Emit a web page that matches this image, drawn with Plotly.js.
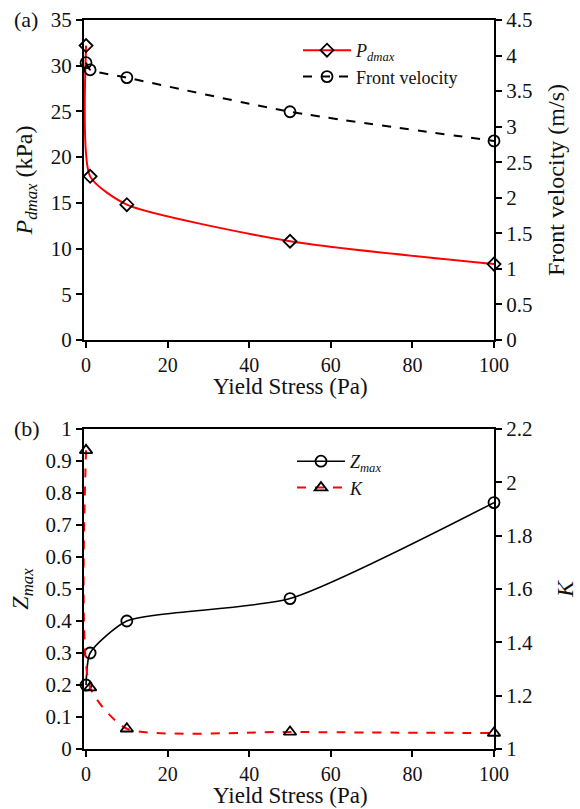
<!DOCTYPE html>
<html>
<head>
<meta charset="utf-8">
<script src="https://cdn.plot.ly/plotly-3.0.1.min.js"></script>
<style>
  html, body { margin: 0; padding: 0; background: #fff; }
  #chart { width: 580px; height: 809px; }
</style>
</head>
<body>
<div id="chart"></div>
<script>
// Yield stress values (Pa) shared by both panels
const yieldStress = [0, 1, 10, 50, 100];

// Panel (a): maximum dynamic pressure (kPa) and front velocity (m/s)
const pdmax = [32.2, 17.9, 14.8, 10.8, 8.3];
const frontVelocity = [3.9, 3.8, 3.69, 3.21, 2.8];

// Panel (b): maximum run-up height Zmax and coefficient K
const zmax = [0.2, 0.3, 0.4, 0.47, 0.77];
const kCoef = [2.12, 1.23, 1.076, 1.064, 1.06];

// x tick values shown on both panels
const xTicks = [0, 20, 40, 60, 80, 100];

const serif = 'Liberation Serif';
const tickFont = { family: serif, size: 21, color: '#111' };
const xTickFont = { family: serif, size: 20, color: '#111' };
const titleFont = { family: serif, size: 24, color: '#111' };
const xTitleFont = { family: serif, size: 23, color: '#111' };

const traces = [
  {
    x: yieldStress, y: pdmax, name: '<i>P<sub>dmax</sub></i>',
    xaxis: 'x', yaxis: 'y', mode: 'lines+markers', cliponaxis: false,
    line: { color: '#ff0000', width: 2, shape: 'spline', smoothing: 0.6 },
    marker: { symbol: 'diamond-open', size: 10, color: '#000', line: { width: 1.8, color: '#000' } }
  },
  {
    x: yieldStress, y: frontVelocity, name: 'Front velocity',
    xaxis: 'x', yaxis: 'y2', mode: 'lines+markers', cliponaxis: false,
    line: { color: '#000', width: 2, dash: 'dash', shape: 'spline', smoothing: 0.6 },
    marker: { symbol: 'circle-open', size: 11, color: '#000', line: { width: 1.8, color: '#000' } }
  },
  {
    x: yieldStress, y: zmax, name: '<i>Z<sub>max</sub></i>',
    xaxis: 'x2', yaxis: 'y3', mode: 'lines+markers', cliponaxis: false,
    line: { color: '#000', width: 1.6, shape: 'spline', smoothing: 0.6 },
    marker: { symbol: 'circle-open', size: 11, color: '#000', line: { width: 1.8, color: '#000' } },
    legend: 'legend2'
  },
  {
    x: yieldStress, y: kCoef, name: '<i>K</i>',
    xaxis: 'x2', yaxis: 'y4', mode: 'lines+markers', cliponaxis: false,
    line: { color: '#ff0000', width: 2, dash: 'dash', shape: 'spline', smoothing: 0.6 },
    marker: { symbol: 'triangle-up-open', size: 11, color: '#000', line: { width: 1.8, color: '#000' } },
    legend: 'legend2'
  }
];

// the x range starts a hair below zero so the steep first segment next to the y axis is not clipped away
const xDomain = [84 / 580, 494 / 580];
const xRange = [-0.5, 100];
const topDomain = [1 - 340 / 809, 1 - 20 / 809];
const botDomain = [1 - 749 / 809, 1 - 429 / 809];

function axisBase(extra) {
  return Object.assign({
    showgrid: false, zeroline: false, showline: true, layer: 'below traces',
    linecolor: '#000', linewidth: 2, ticks: 'outside', ticklen: 6,
    tickwidth: 2, tickcolor: '#000', tickfont: tickFont
  }, extra);
}

function paperText(text, xPx, yPx, font, xanchor) {
  return {
    text: text, x: xPx / 580, y: 1 - yPx / 809, xref: 'paper', yref: 'paper',
    xanchor: xanchor, yanchor: 'middle', showarrow: false, borderpad: 0, font: font
  };
}

const layout = {
  width: 580, height: 809,
  margin: { l: 0, r: 0, t: 0, b: 0 },
  paper_bgcolor: '#fff', plot_bgcolor: '#fff',
  font: { family: serif, color: '#111' },
  showlegend: true,
  xaxis: axisBase({
    domain: xDomain, anchor: 'y', range: xRange, tickvals: xTicks, mirror: true,
    tickfont: xTickFont
  }),
  yaxis: axisBase({
    domain: topDomain, anchor: 'x', range: [0, 35], dtick: 5,
    title: { text: '<i>P<sub>dmax</sub></i> (kPa)', font: titleFont, standoff: 11 }
  }),
  yaxis2: axisBase({
    domain: topDomain, anchor: 'x', overlaying: 'y', side: 'right',
    range: [0, 4.5], dtick: 0.5,
    title: { text: 'Front velocity (m/s)', font: titleFont, standoff: 16 }
  }),
  xaxis2: axisBase({
    domain: xDomain, anchor: 'y3', range: xRange, tickvals: xTicks, mirror: true,
    tickfont: xTickFont
  }),
  yaxis3: axisBase({
    domain: botDomain, anchor: 'x2', range: [0, 1], dtick: 0.1,
    title: { text: '<i>Z<sub>max</sub></i>', font: titleFont, standoff: 10 }
  }),
  yaxis4: axisBase({
    domain: botDomain, anchor: 'x2', overlaying: 'y3', side: 'right',
    range: [1, 2.2], dtick: 0.2,
    title: { text: '<i>K</i>', font: titleFont, standoff: 24 }
  }),
  legend: {
    x: 298 / 580, y: 1 - 32 / 809, xanchor: 'left', yanchor: 'top',
    bgcolor: 'rgba(255,255,255,0)', borderwidth: 0, itemwidth: 48,
    font: { family: serif, size: 18, color: '#111' }
  },
  legend2: {
    x: 292 / 580, y: 1 - 443 / 809, xanchor: 'left', yanchor: 'top',
    bgcolor: 'rgba(255,255,255,0)', borderwidth: 0, itemwidth: 48,
    font: { family: serif, size: 18, color: '#111' }
  },
  annotations: [
    paperText('(a)', 13, 20, { family: serif, size: 22, color: '#111' }, 'left'),
    paperText('(b)', 13, 429, { family: serif, size: 22, color: '#111' }, 'left'),
    // x-axis titles of the two panels
    paperText('Yield Stress (Pa)', 290, 387, xTitleFont, 'center'),
    paperText('Yield Stress (Pa)', 290, 795, xTitleFont, 'center')
  ]
};

Plotly.newPlot('chart', traces, layout, { displayModeBar: false, staticPlot: true });
</script>
</body>
</html>
